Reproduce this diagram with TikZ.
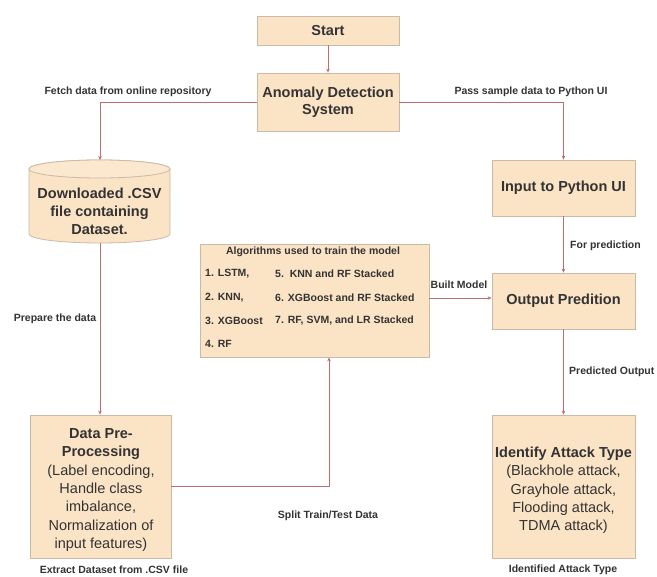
\documentclass[tikz,border=0pt]{standalone}
\usepackage{fontspec}
\setmainfont{Liberation Sans}
\usetikzlibrary{arrows.meta}
\definecolor{boxfill}{HTML}{FBE3C6}
\definecolor{boxline}{HTML}{C9BBA8}
\definecolor{conn}{HTML}{BF6E70}
\definecolor{txt}{HTML}{333333}
\tikzset{
  box/.style={draw=boxline, fill=boxfill, line width=0.8pt, inner sep=2pt, align=center,
    text=txt, font=\fontsize{14.5}{17}\selectfont\bfseries},
  boxtext/.style={text=txt, align=center, inner sep=0pt, font=\fontsize{14.5}{18.3}\selectfont},
  lbl/.style={text=txt, font=\fontsize{10.5}{12}\selectfont\bfseries, inner sep=0pt},
  algt/.style={text=txt, font=\fontsize{10.5}{12}\selectfont\bfseries, inner sep=0pt, anchor=west},
  conn/.style={draw=conn, line width=0.7pt, -{Stealth[length=4pt,width=3.5pt]}},
}
\begin{document}
\begin{tikzpicture}[x=1pt,y=-1pt]
\useasboundingbox[fill=white] (0,0) rectangle (657,577);

% boxes
\node[box, minimum width=142pt, minimum height=29pt] (start) at (328,30.5) {Start};
\node[box, minimum width=142pt, minimum height=58pt] (ads) at (328,102) {Anomaly Detection\\System};
\node[box, minimum width=143pt, minimum height=56pt] (input) at (563.5,188) {Input to Python UI};
\node[box, minimum width=143pt, minimum height=56pt] (output) at (563.5,301) {Output Predition};
\node[box, minimum width=229pt, minimum height=113pt] (algo) at (314.5,300.5) {};
\node[box, minimum width=141pt, minimum height=143pt] (prep) at (100.5,486.5) {};
\node[box, minimum width=143pt, minimum height=143pt] (ident) at (563.5,486.5) {};
\node[boxtext] (preptext) at (101,490)
  {\bfseries Data Pre-\\\bfseries Processing\\(Label encoding,\\Handle class\\imbalance,\\Normalization of\\input features)};
\node[boxtext] (identtext) at (563.5,490.5)
  {\bfseries Identify Attack Type\\(Blackhole attack,\\Grayhole attack,\\Flooding attack,\\TDMA attack)};

% cylinder
\path[draw=boxline, fill=boxfill, line width=0.8pt]
  (29,169) -- (29,234) arc[start angle=180, end angle=360, x radius=70.5pt, y radius=9pt]
  -- (170,169) arc[start angle=0, end angle=180, x radius=70.5pt, y radius=9pt] -- cycle;
\path[draw=boxline, line width=0.8pt, fill=boxfill!85!white]
  (99.5,169) ellipse[x radius=70.5pt, y radius=9pt];
\node[text=txt, font=\fontsize{14.5}{18}\selectfont\bfseries, align=center] (cyl) at (99.5,211)
  {Downloaded .CSV\\file containing\\Dataset.};
\coordinate (cyltop) at (100,160);
\coordinate (cylbot) at (100,243);

% algorithm box texts
\node[text=txt, font=\fontsize{10.5}{12}\selectfont\bfseries, inner sep=0pt] (atitle) at (313,252) {Algorithms used to train the model};
\node[algt] (a1) at (205,274) {1. LSTM,};
\node[algt] (a2) at (205,298) {2. KNN,};
\node[algt] (a3) at (205,321) {3. XGBoost};
\node[algt] (a4) at (205,344) {4. RF};
\node[algt] (a5) at (275,274) {5.\ \ KNN and RF Stacked};
\node[algt] (a6) at (275,298) {6. XGBoost and RF Stacked};
\node[algt] (a7) at (275,321) {7. RF, SVM, and LR Stacked};

% connectors
\draw[conn] (start.south) -- (ads.north);
\draw[conn] (ads.west) -| (cyltop);
\draw[conn] (ads.east) -| (input.north);
\draw[conn] (input.south) -- (output.north);
\draw[conn] (output.south) -- (ident.north);
\draw[conn] (algo.east |- 0,298) -- (output.west |- 0,298);
\draw[conn] (cylbot) -- (cylbot |- prep.north);
\draw[conn] (prep.east) -| ([xshift=14.5pt]algo.south);

% labels
\node[lbl] (lfetch) at (128,92) {Fetch data from online repository};
\node[lbl] (lpass) at (531,92) {Pass sample data to Python UI};
\node[lbl] (lprep) at (55,319) {Prepare the data};
\node[lbl, anchor=west] (lfor) at (570,246) {For prediction};
\node[lbl] (lbuilt) at (459,285) {Built Model};
\node[lbl, anchor=west] (lpred) at (569,372) {Predicted Output};
\node[lbl] (lsplit) at (328,516) {Split Train/Test Data};
\node[lbl] (lextract) at (114,569.5) {Extract Dataset from .CSV file};
\node[lbl] (lidentified) at (563,569.5) {Identified Attack Type};
\end{tikzpicture}
\end{document}
